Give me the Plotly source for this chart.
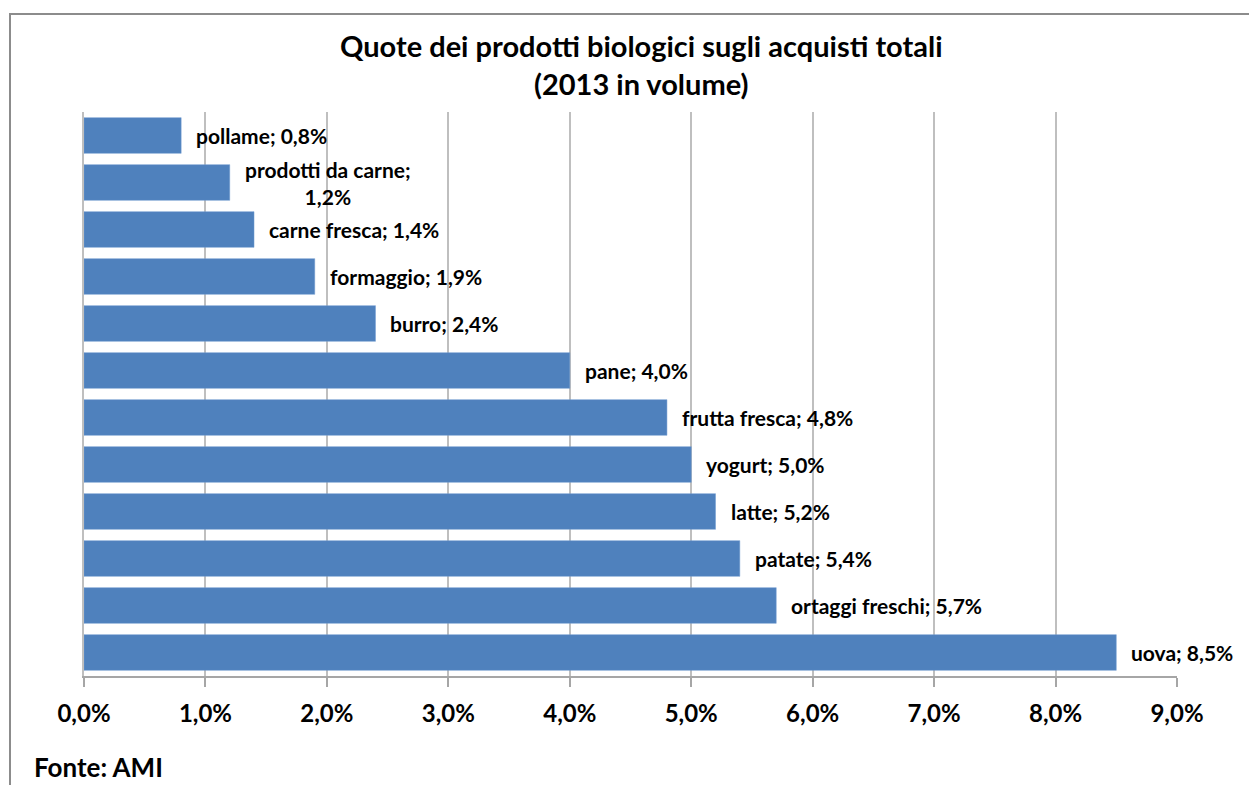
import plotly.graph_objects as go

categories = ["pollame", "prodotti da carne", "carne fresca", "formaggio", "burro", "pane",
              "frutta fresca", "yogurt", "latte", "patate", "ortaggi freschi", "uova"]
values = [0.8, 1.2, 1.4, 1.9, 2.4, 4.0, 4.8, 5.0, 5.2, 5.4, 5.7, 8.5]
label_texts = ["pollame; 0,8%", "prodotti da carne;<br>1,2%", "carne fresca; 1,4%", "formaggio; 1,9%",
               "burro; 2,4%", "pane; 4,0%", "frutta fresca; 4,8%", "yogurt; 5,0%", "latte; 5,2%",
               "patate; 5,4%", "ortaggi freschi; 5,7%", "uova; 8,5%"]
tick_vals = [0, 1, 2, 3, 4, 5, 6, 7, 8, 9]
tick_labels = ["0,0%", "1,0%", "2,0%", "3,0%", "4,0%", "5,0%", "6,0%", "7,0%", "8,0%", "9,0%"]

FONT = "Lato"
OFF = 8  # page body margin
W, H = 1249, 777
# target page coords: plot x 84..1177, y 112.5..675.5
L = 84 - OFF
R = W - (1177 - OFF)
T = 112 - OFF
B = H - (676 - OFF)

def px_x(page_x):
    return (page_x - OFF - L) / (W - L - R)

def px_y(page_y):
    return (H - B - (page_y - OFF)) / (H - T - B)

fig = go.Figure()
fig.add_trace(go.Bar(
    x=values, y=categories, orientation="h",
    marker=dict(color="#4F81BD", line=dict(color="#6F9AD0", width=0.5)),
    width=0.76, hoverinfo="skip", showlegend=False,
))

for c, v, t in zip(categories, values, label_texts):
    fig.add_annotation(x=v, y=c, xref="x", yref="y", text="<b>%s</b>" % t,
                       showarrow=False, xanchor="left", yanchor="middle", xshift=13,
                       align="center", font=dict(family=FONT, size=21, color="#000"))

fig.add_shape(type="rect", xref="paper", yref="paper",
              x0=px_x(10), x1=px_x(1275), y0=px_y(800), y1=px_y(14),
              line=dict(color="#8c8c8c", width=2), fillcolor="rgba(0,0,0,0)", layer="below")

fig.add_annotation(xref="paper", yref="paper", x=px_x(32), y=px_y(785),
                   xanchor="left", yanchor="bottom", showarrow=False,
                   text="<b>Fonte: AMI</b>", font=dict(family=FONT, size=26, color="#000"))

fig.add_annotation(xref="paper", yref="paper", x=px_x(641), y=px_y(26),
                   xanchor="center", yanchor="top", showarrow=False, align="center",
                   text="<b>Quote dei prodotti biologici sugli acquisti totali<br>(2013 in volume)</b>",
                   font=dict(family=FONT, size=29, color="#000"))

fig.update_layout(
    width=W, height=H,
    margin=dict(l=L, r=R, t=T, b=B, autoexpand=False),
    paper_bgcolor="white", plot_bgcolor="white",
    xaxis=dict(range=[0, 9], tickvals=tick_vals, ticktext=["<b>%s</b>" % t for t in tick_labels],
               showgrid=True, gridcolor="#bfbfbf", gridwidth=1.5,
               showline=True, linecolor="#a6a6a6", linewidth=1.5,
               ticks="outside", ticklen=9, tickcolor="#a6a6a6", tickwidth=1.5,
               ticklabelstandoff=6,
               tickfont=dict(family=FONT, size=24, color="#000"), zeroline=False, fixedrange=True),
    yaxis=dict(autorange="reversed", showticklabels=False, showgrid=False,
               showline=True, linecolor="#bfbfbf", linewidth=1.5, ticks="", fixedrange=True),
    bargap=0.24,
)

fig.write_html("out.html")
